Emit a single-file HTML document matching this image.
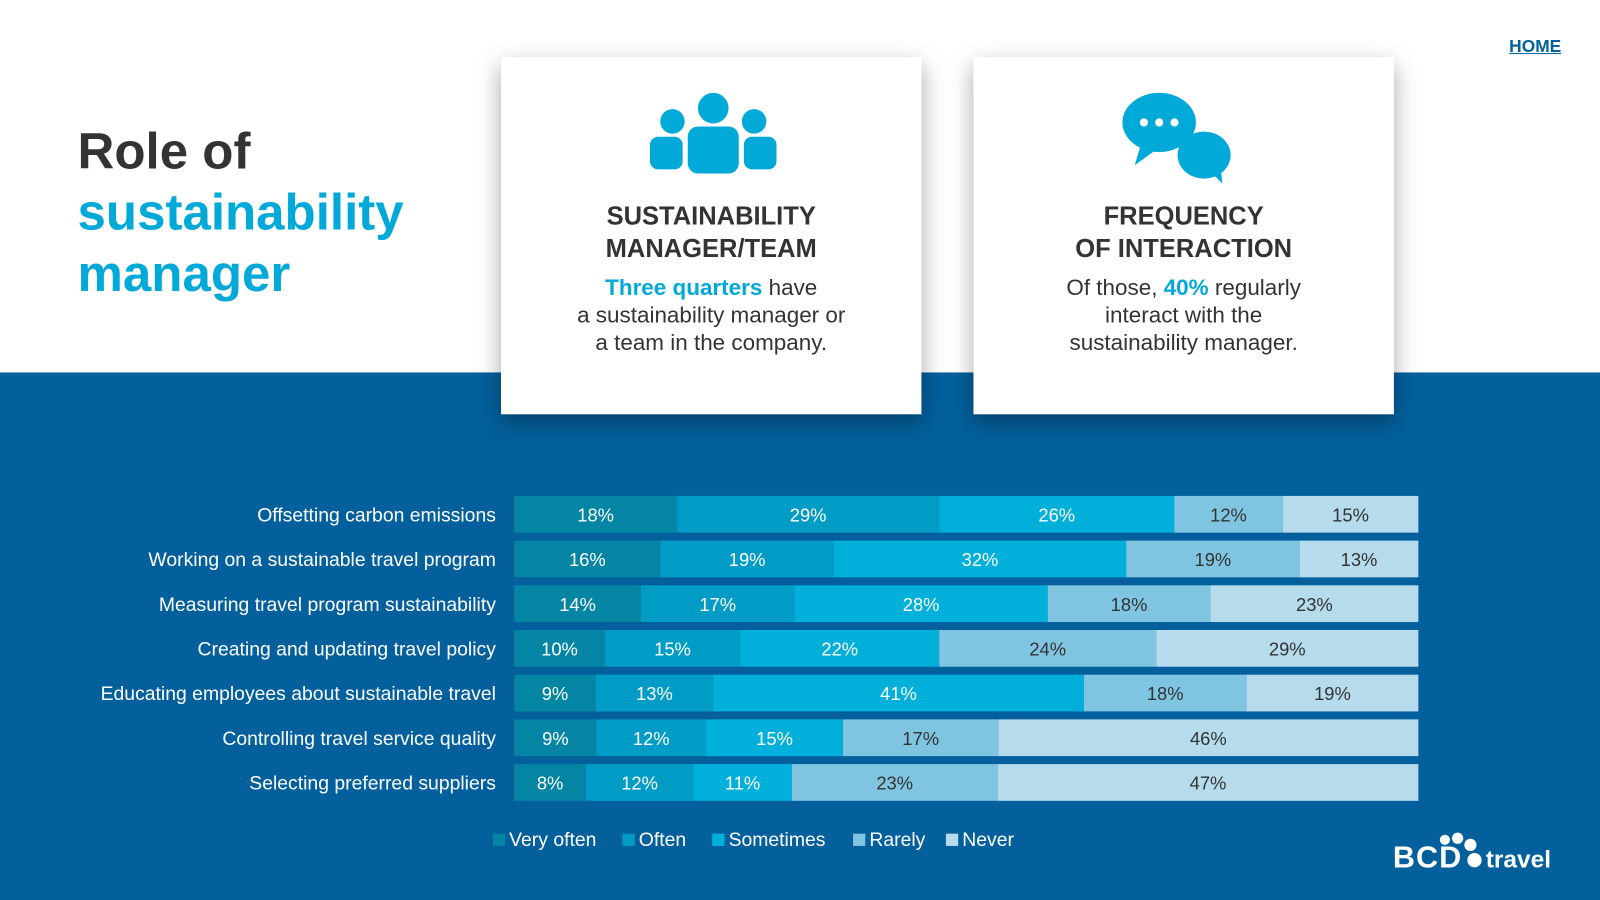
<!DOCTYPE html>
<html><head><meta charset="utf-8">
<style>
html,body{margin:0;padding:0;width:1600px;height:900px;overflow:hidden;font-family:"Liberation Sans",sans-serif;}
#wrap{position:absolute;left:0;top:0;width:1568px;height:882px;transform:scale(1.020408);transform-origin:0 0;background:#fff;}
.bottom{position:absolute;left:0;top:365px;width:1568px;height:517px;background:#03609c;}
.card{position:absolute;top:56px;width:412px;height:350px;background:#fff;box-shadow:0 8px 22px rgba(0,0,0,0.35);text-align:center;color:#333;}
.card h2{position:absolute;left:0;right:0;top:196px;margin:0;font-size:25px;line-height:32px;font-weight:bold;color:#333;}
.card p{position:absolute;left:0;right:0;top:212px;margin:0;font-size:22px;line-height:27px;color:#333;}
.hl{color:#00a9d8;font-weight:bold;}
.title{position:absolute;left:76px;top:118px;font-size:50px;line-height:60px;font-weight:bold;color:#333;}
.home{position:absolute;left:1479px;top:36px;font-size:17px;font-weight:bold;color:#02609b;text-decoration:underline;}
</style></head><body>
<div id="wrap">
<div class="bottom"></div>
<div class="title">Role of<br><span style="color:#00a9d8">sustainability<br>manager</span></div>
<a class="home">HOME</a>

<div class="card" style="left:491px">
 <svg style="position:absolute;left:146px;top:34px" width="124" height="82" viewBox="0 0 124 82">
  <g fill="#00a9d8">
   <circle cx="62" cy="16" r="15"/><rect x="37" y="34" width="50" height="46" rx="10"/>
   <circle cx="22" cy="29" r="12"/><rect x="0" y="44" width="32" height="32" rx="8"/>
   <circle cx="102" cy="29" r="12"/><rect x="92" y="44" width="32" height="32" rx="8"/>
  </g>
 </svg>
 <h2 style="top:140px">SUSTAINABILITY<br>MANAGER/TEAM</h2>
 <p><span class="hl">Three quarters</span> have<br>a sustainability manager or<br>a team in the company.</p>
</div>
<div class="card" style="left:954px">
 <svg style="position:absolute;left:146px;top:34px" width="120" height="92" viewBox="0 0 120 92">
  <g fill="#00a9d8">
   <ellipse cx="80" cy="62" rx="26" ry="23"/><path d="M88 80 L98 90 L96 72 Z"/>
   <ellipse cx="36" cy="30" rx="36" ry="29"/><path d="M18 52 L12 72 L34 56 Z"/>
  </g>
  <g fill="#fff"><circle cx="21" cy="30" r="4"/><circle cx="36" cy="30" r="4"/><circle cx="51" cy="30" r="4"/></g>
 </svg>
 <h2 style="top:140px">FREQUENCY<br>OF INTERACTION</h2>
 <p>Of those, <span class="hl">40%</span> regularly<br>interact with the<br>sustainability manager.</p>
</div>

<svg id="chart" style="position:absolute;left:0;top:0" width="1568" height="882"></svg>

<div style="position:absolute;left:1365px;top:824px;color:#fff;font-weight:bold;white-space:nowrap;">
 <span style="font-size:30px;letter-spacing:1px">BCD</span><span style="display:inline-block;width:14px;height:14px;border-radius:50%;background:#fff;margin:0 4px 0 5px"></span><span style="font-size:24px">travel</span>
 <div style="position:absolute;left:46px;top:-6px;width:10px;height:10px;border-radius:50%;background:#fff"></div>
 <div style="position:absolute;left:58px;top:-8px;width:11px;height:11px;border-radius:50%;background:#fff"></div>
 <div style="position:absolute;left:70px;top:-2px;width:12px;height:12px;border-radius:50%;background:#fff"></div>
</div>
</div>
<script>
const categories=["Offsetting carbon emissions","Working on a sustainable travel program","Measuring travel program sustainability","Creating and updating travel policy","Educating employees about sustainable travel","Controlling travel service quality","Selecting preferred suppliers"];
const seriesNames=["Very often","Often","Sometimes","Rarely","Never"];
const veryOften=[18,16,14,10,9,9,8];
const often=[29,19,17,15,13,12,12];
const sometimes=[26,32,28,22,41,15,11];
const rarely=[12,19,18,24,18,17,23];
const never=[15,13,23,29,19,46,47];
const series=[veryOften,often,sometimes,rarely,never];
const colors=["#0385a3","#019cc5","#00b0da","#7fc4e0","#b5dbec"];
const txtColors=["#fff","#fff","#fff","#333","#333"];
const NS="http://www.w3.org/2000/svg";
const svg=document.getElementById('chart');
const x0=504,x1=1390,yTop=486,step=43.8,bh=36;
function xScale(v,total){return (v/total)*(x1-x0);}
function yPos(i){return yTop+i*step;}
categories.forEach((c,i)=>{
  const total=series.reduce((s,a)=>s+a[i],0);
  let x=x0;
  const lab=document.createElementNS(NS,'text');
  
  
  lab.setAttribute('x',486);lab.setAttribute('y',yPos(i)+bh/2+7);
  lab.setAttribute('text-anchor','end');lab.setAttribute('fill','#fff');
  lab.setAttribute('font-size','19');lab.setAttribute('font-family','Liberation Sans, sans-serif');
  lab.textContent=c;svg.appendChild(lab);
  series.forEach((arr,k)=>{
    const w=xScale(arr[i],total);
    const r=document.createElementNS(NS,'rect');
    
    
    r.setAttribute('x',x);r.setAttribute('y',yPos(i));r.setAttribute('width',w);r.setAttribute('height',bh);
    r.setAttribute('fill',colors[k]);svg.appendChild(r);
    const t=document.createElementNS(NS,'text');
    
    
    t.setAttribute('x',x+w/2);t.setAttribute('y',yPos(i)+bh/2+7);
    t.setAttribute('text-anchor','middle');t.setAttribute('fill',txtColors[k]);
    t.setAttribute('font-size','18');t.setAttribute('font-family','Liberation Sans, sans-serif');
    t.textContent=arr[i]+'%';svg.appendChild(t);
    x+=w;
  });
});
const legX=[483,610,698,836,927];
seriesNames.forEach((n,k)=>{
  const r=document.createElementNS(NS,'rect');
  
  
  r.setAttribute('x',legX[k]);r.setAttribute('y',817);r.setAttribute('width',12);r.setAttribute('height',12);
  r.setAttribute('fill',colors[k]);svg.appendChild(r);
  const t=document.createElementNS(NS,'text');
  
  
  t.setAttribute('x',legX[k]+16);t.setAttribute('y',829);t.setAttribute('fill','#fff');
  t.setAttribute('font-size','19');t.setAttribute('font-family','Liberation Sans, sans-serif');
  t.textContent=n;svg.appendChild(t);
});
</script>
</body></html>
